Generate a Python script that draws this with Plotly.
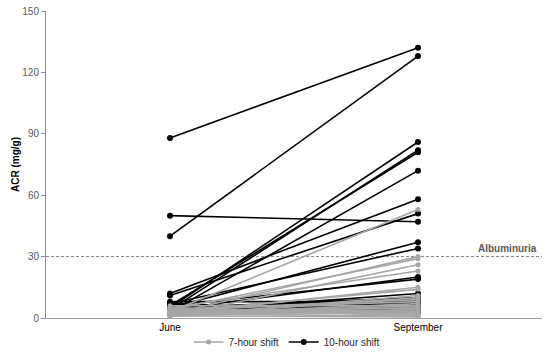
import plotly.graph_objects as go

months = ["June", "September"]

# 10-hour shift (black) subjects: June and September ACR values
june_10h = [88, 40, 50, 5, 4, 6, 3, 12, 11, 5, 7, 4, 6, 3, 5, 8, 4, 2, 6, 3, 5, 4, 7, 3]
sept_10h = [132, 128, 47, 86, 82, 81, 72, 58, 51, 37, 34, 20, 19, 12, 9, 8, 7, 6, 5, 8, 10, 4, 3, 7]

# 7-hour shift (grey) subjects
june_7h = [3, 2, 4, 1, 5, 2, 3, 1, 4, 2, 6, 3, 1, 2, 5, 3, 2, 4, 1, 3, 2, 5, 1, 3, 2, 4]
sept_7h = [53, 30, 29, 26, 23, 15, 14, 10, 9, 7, 6, 5, 4, 3, 2, 2, 1, 8, 11, 5, 3, 1, 0.5, 4, 6, 2]

albuminuria_threshold = 30
y_ticks = [0, 30, 60, 90, 120, 150]

FONT = "Liberation Sans, Arial, sans-serif"
BLACK = "#000000"
GREY = "#a6a6a6"
AXIS = "#8c8c8c"
TXT = "#595959"

W, H = 550, 354

fig = go.Figure()

for i, (a, b) in enumerate(zip(june_10h, sept_10h)):
    fig.add_trace(go.Scatter(
        x=months, y=[a, b], mode="lines+markers",
        line=dict(color=BLACK, width=1.6),
        marker=dict(color=BLACK, size=6),
        name="10-hour shift", legendgroup="10h", showlegend=(i == 0),
        legendrank=2,
    ))

for i, (a, b) in enumerate(zip(june_7h, sept_7h)):
    fig.add_trace(go.Scatter(
        x=months, y=[a, b], mode="lines+markers",
        line=dict(color=GREY, width=1.6),
        marker=dict(color=GREY, size=5),
        name="7-hour shift", legendgroup="7h", showlegend=(i == 0),
        legendrank=1,
    ))

fig.add_shape(type="line", xref="paper", x0=0, x1=1, yref="y",
              y0=albuminuria_threshold, y1=albuminuria_threshold,
              line=dict(color="#7f7f7f", width=1, dash="3px,2px"), layer="below")

fig.add_annotation(x=0.93, xref="paper", xanchor="center", y=albuminuria_threshold, yref="y",
                   text="<b>Albuminuria</b>", showarrow=False, yanchor="bottom",
                   yshift=1, font=dict(family=FONT, size=10, color=TXT))

fig.update_layout(
    width=W, height=H,
    margin=dict(l=46, r=8, t=11, b=36, autoexpand=False),
    paper_bgcolor="white", plot_bgcolor="white",
    font=dict(family=FONT, size=10, color=TXT),
    legend=dict(orientation="h", x=287 / W, xanchor="center", xref="container",
                y=12 / H, yanchor="middle", yref="container",
                font=dict(family=FONT, size=10, color="#262626"),
                traceorder="normal", itemwidth=30, tracegroupgap=0),
    xaxis=dict(type="category", categoryorder="array", categoryarray=months,
               range=[-0.5, 1.5], showgrid=False, showline=True, linecolor="#a0a0a0",
               linewidth=1, ticks="", automargin=False,
               tickfont=dict(family=FONT, size=10, color="#000000"),
               ticklabelstandoff=0),
    yaxis=dict(range=[0, 150], tickvals=y_ticks, showgrid=False, showline=True,
               linecolor=AXIS, linewidth=1, ticks="outside", ticklen=4, tickcolor=AXIS,
               zeroline=False, automargin=False, ticklabeloverflow="allow",
               tickfont=dict(family=FONT, size=10, color=TXT),
               title=dict(text="<b>ACR (mg/g)</b>", font=dict(family=FONT, size=10, color="#000000"),
                          standoff=0)),
)

fig.write_html("out.html", config={"displayModeBar": False},
               post_script="document.body.style.margin='0';document.body.style.overflow='hidden';")
